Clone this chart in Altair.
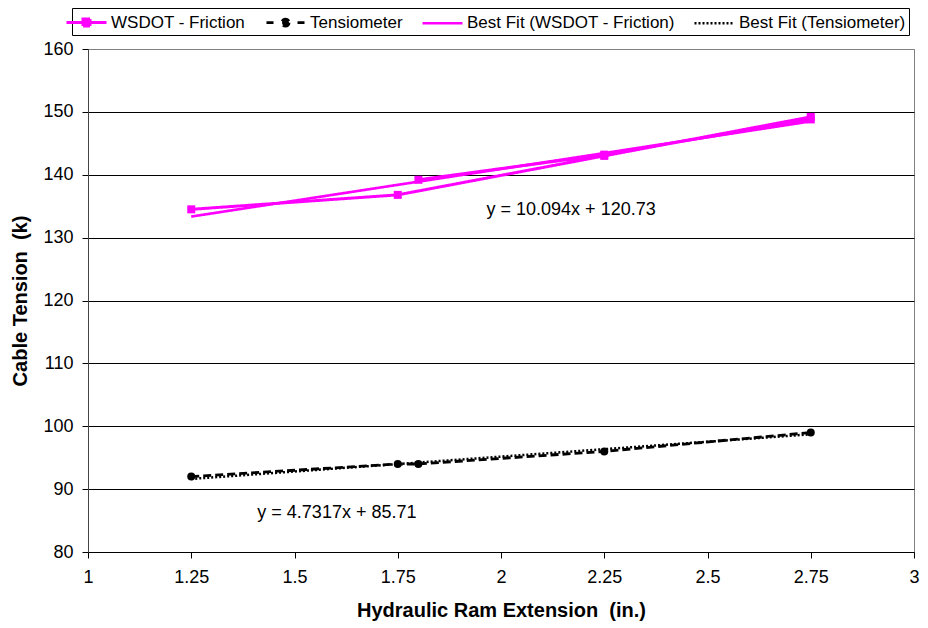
import altair as alt
import pandas as pd

# ---- data ----
SERIES = ["WSDOT - Friction", "Tensiometer", "Best Fit (WSDOT - Friction)", "Best Fit (Tensiometer)"]

fr_x = [1.25, 1.75, 2.25, 2.75, 2.75, 2.25, 1.8]
fr_y = [134.5, 136.8, 143.0, 149.2, 148.8, 143.2, 139.2]

te_x = [1.25, 1.75, 1.8, 2.25, 2.75]
te_y = [92.0, 94.0, 94.0, 96.0, 99.0]

fit_fr_x = [1.25, 2.75]
fit_fr_y = [133.35, 148.49]

fit_te_x = [1.25, 2.75]
fit_te_y = [91.62, 98.72]

ann_text = ["y = 10.094x + 120.73", "y = 4.7317x + 85.71"]
ann_x = [1.965, 1.41]
ann_y = [134.4, 86.2]

x_ticks = [1, 1.25, 1.5, 1.75, 2, 2.25, 2.5, 2.75, 3]
y_ticks = [80, 90, 100, 110, 120, 130, 140, 150, 160]

MAGENTA = "#FF00FF"
FONT = "Liberation Sans"

rows = []
for name, xs, ys in [
    (SERIES[0], fr_x, fr_y),
    (SERIES[1], te_x, te_y),
    (SERIES[2], fit_fr_x, fit_fr_y),
    (SERIES[3], fit_te_x, fit_te_y),
]:
    for i, (xv, yv) in enumerate(zip(xs, ys)):
        rows.append({"series": name, "x": xv, "y": yv, "seq": i})
df = pd.DataFrame(rows)
fr_pts = pd.DataFrame({"x": fr_x, "y": fr_y})
te_pts = pd.DataFrame({"x": te_x, "y": te_y})
ann = pd.DataFrame({"text": ann_text, "x": ann_x, "y": ann_y})
leg = pd.DataFrame({"series": SERIES})

xscale = alt.Scale(domain=[1, 3], nice=False, zero=False)
yscale = alt.Scale(domain=[80, 160], nice=False, zero=False)

xaxis = alt.Axis(
    values=x_ticks, format=".3~g", title="Hydraulic Ram Extension \u00a0(in.)",
    grid=False, domainColor="black", tickColor="black", tickSize=6,
    labelFontSize=18, labelPadding=10, titleFontSize=20, titlePadding=14,
    labelFlush=False,
)
yaxis = alt.Axis(
    values=y_ticks, title="Cable Tension \u00a0(k)",
    grid=True, gridColor={"condition": {"test": "datum.value == 160", "value": "#808080"}, "value": "black"},
    gridWidth=1, domainColor="#444444", tickColor="black", tickSize=6,
    labelFontSize=18, labelPadding=9, titleFontSize=20, titlePadding=12,
)

# legend symbol paths (unit box -1..1, scaled by sqrt(symbolSize)/2)
SYM_PATHS = [
    "M-2,0H2M-0.35,-0.35H0.35V0.35H-0.35Z",
    "M-1.9,0H-1.2M1.2,0H1.9M0.35,0A0.35,0.35 0 1,1 -0.35,0A0.35,0.35 0 1,1 0.35,0Z",
    "M-2,0H2",
    "M-2,0H2",
]

lines = alt.Chart(df).mark_line(clip=True).encode(
    x=alt.X("x:Q", scale=xscale, axis=xaxis),
    y=alt.Y("y:Q", scale=yscale, axis=yaxis),
    color=alt.Color(
        "series:N",
        scale=alt.Scale(domain=SERIES, range=[MAGENTA, "black", MAGENTA, "black"]),
        legend=alt.Legend(title=None),
    ),
    strokeDash=alt.StrokeDash(
        "series:N",
        scale=alt.Scale(domain=SERIES, range=[[1, 0], [8, 4], [1, 0], [2, 2]]),
        legend=alt.Legend(title=None),
    ),
    strokeWidth=alt.StrokeWidth(
        "series:N",
        scale=alt.Scale(domain=SERIES, range=[3, 2.5, 1.5, 1.5]),
        legend=alt.Legend(title=None),
    ),
    detail="series:N",
    order="seq:Q",
)

fr_marks = alt.Chart(fr_pts).mark_point(
    shape="square", filled=True, opacity=1, size=64, color=MAGENTA
).encode(x=alt.X("x:Q", scale=xscale), y=alt.Y("y:Q", scale=yscale))

te_marks = alt.Chart(te_pts).mark_point(
    shape="circle", filled=True, opacity=1, size=64, color="black"
).encode(x=alt.X("x:Q", scale=xscale), y=alt.Y("y:Q", scale=yscale))

# legend-only layer (no visible marks; entries come from the scale domain)
legend_layer = alt.Chart(leg).transform_filter("false").mark_point(filled=False, opacity=1).encode(
    fill=alt.Fill(
        "series:N",
        scale=alt.Scale(domain=SERIES, range=[MAGENTA, "black", "transparent", "transparent"]),
        legend=alt.Legend(title=None),
    ),
    shape=alt.Shape(
        "series:N", scale=alt.Scale(domain=SERIES, range=SYM_PATHS), legend=alt.Legend(title=None)
    ),
)

texts = alt.Chart(ann).mark_text(
    align="left", baseline="middle", font=FONT, fontSize=18, color="black"
).encode(
    x=alt.X("x:Q", scale=xscale),
    y=alt.Y("y:Q", scale=yscale),
    text="text:N",
)

chart = (
    alt.layer(lines, fr_marks, te_marks, texts, legend_layer)
    .properties(
        width=826, height=503,
        autosize=alt.AutoSizeParams(type="none"),
        padding={"left": 80, "top": 41, "right": 6, "bottom": 70},
        background="white",
    )
    .configure_view(stroke="#808080", strokeWidth=1)
    .configure_axis(labelFont=FONT, titleFont=FONT, labelColor="black", titleColor="black", titleFontWeight="bold")
    .configure_legend(
        orient="none", direction="horizontal", legendX=-16, legendY=-41,
        labelFont=FONT, labelFontSize=17, labelColor="black", labelLimit=400,
        strokeColor="black", fillColor="white", padding=3,
        symbolSize=400, labelOffset=13, columnPadding=14, symbolOpacity=1,
    )
)

chart.save("out.html", embed_options={"renderer": "svg", "actions": False})
